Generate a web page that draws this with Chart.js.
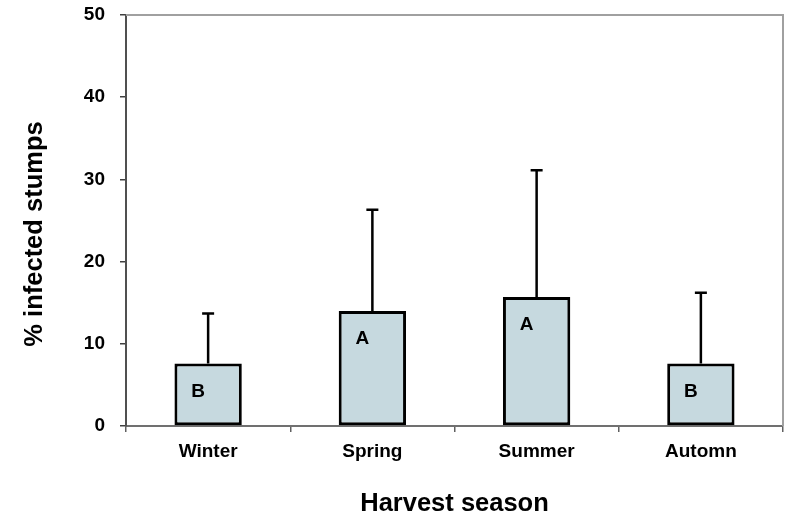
<!DOCTYPE html>
<html>
<head>
<meta charset="utf-8">
<script src="https://cdn.jsdelivr.net/npm/chart.js@4/dist/chart.umd.min.js"></script>
<style>
  html, body { margin: 0; padding: 0; background: #fff; }
  #wrap { width: 786px; height: 516px; position: relative; }
</style>
</head>
<body>
<div id="wrap"><canvas id="chart"></canvas></div>
<script>
// Harvest seasons and percentage of stumps infected
const seasons = ['Winter', 'Spring', 'Summer', 'Automn'];
const meanInfected = [7.6, 14.0, 15.7, 7.6];
const stdDev = [6.1, 12.3, 15.4, 8.6];
const groupLetters = ['B', 'A', 'A', 'B'];
const yTickValues = [0, 10, 20, 30, 40, 50];

const FONT = 'Arial, "Liberation Sans", sans-serif';

// Upper error whiskers, group letters, frame and axis titles
const extras = {
  id: 'extras',
  beforeDatasetsDraw(chart) {
    const { ctx, chartArea: a } = chart;
    ctx.save();
    ctx.strokeStyle = '#A0A0A0';
    ctx.lineWidth = 2;
    ctx.beginPath();
    ctx.moveTo(a.left, a.top);
    ctx.lineTo(a.right, a.top);
    ctx.lineTo(a.right, a.bottom);
    ctx.stroke();
    ctx.restore();
  },
  afterDatasetsDraw(chart) {
    const { ctx, chartArea: a, scales } = chart;
    const meta = chart.getDatasetMeta(0);
    ctx.save();
    ctx.strokeStyle = '#000';
    ctx.lineWidth = 2.5;
    meta.data.forEach((bar, i) => {
      const top = scales.y.getPixelForValue(meanInfected[i] + stdDev[i]);
      ctx.beginPath();
      ctx.moveTo(bar.x, bar.y);
      ctx.lineTo(bar.x, top);
      ctx.moveTo(bar.x - 6, top);
      ctx.lineTo(bar.x + 6, top);
      ctx.stroke();
    });
    ctx.fillStyle = '#000';
    ctx.font = 'bold 19px ' + FONT;
    ctx.textAlign = 'center';
    ctx.textBaseline = 'middle';
    meta.data.forEach((bar, i) => {
      ctx.fillText(groupLetters[i], bar.x - 10, bar.y + 28);
    });
    // axis titles
    ctx.font = 'bold 25.5px ' + FONT;
    ctx.textBaseline = 'alphabetic';
    ctx.fillText('Harvest season', (a.left + a.right) / 2, 511);
    ctx.translate(42, 234);
    ctx.rotate(-Math.PI / 2);
    ctx.fillText('% infected stumps', 0, 0);
    ctx.restore();
  }
};

new Chart(document.getElementById('chart'), {
  type: 'bar',
  data: {
    labels: seasons,
    datasets: [{
      data: meanInfected,
      backgroundColor: '#C6D9DF',
      borderColor: '#000',
      borderWidth: 3,
      borderSkipped: false,
      categoryPercentage: 0.41,
      barPercentage: 1
    }]
  },
  options: {
    responsive: true,
    maintainAspectRatio: false,
    animation: false,
    layout: { padding: { top: 15, right: 3, left: 0, bottom: 0 } },
    plugins: { legend: { display: false }, tooltip: { enabled: false } },
    scales: {
      x: {
        offset: true,
        grid: { offset: true, drawOnChartArea: false, tickLength: 6, color: '#606060', lineWidth: 1.5 },
        border: { color: '#707070', width: 2 },
        ticks: { color: '#000', font: { family: FONT, size: 19, weight: 'bold' }, padding: 8 },
        afterFit(scale) { scale.height = 90; scale.paddingLeft = 0; scale.paddingRight = 0; }
      },
      y: {
        min: 0,
        max: 50,
        afterBuildTicks(scale) { scale.ticks = yTickValues.map(v => ({ value: v })); },
        grid: { drawOnChartArea: false, tickLength: 6, color: '#404040', lineWidth: 1.5 },
        border: { color: '#505050', width: 2 },
        ticks: { color: '#000', font: { family: FONT, size: 19, weight: 'bold' }, padding: 15 },
        afterFit(scale) { scale.width = 126; scale.paddingTop = 0; scale.paddingBottom = 0; }
      }
    }
  },
  plugins: [extras]
});
</script>
</body>
</html>
